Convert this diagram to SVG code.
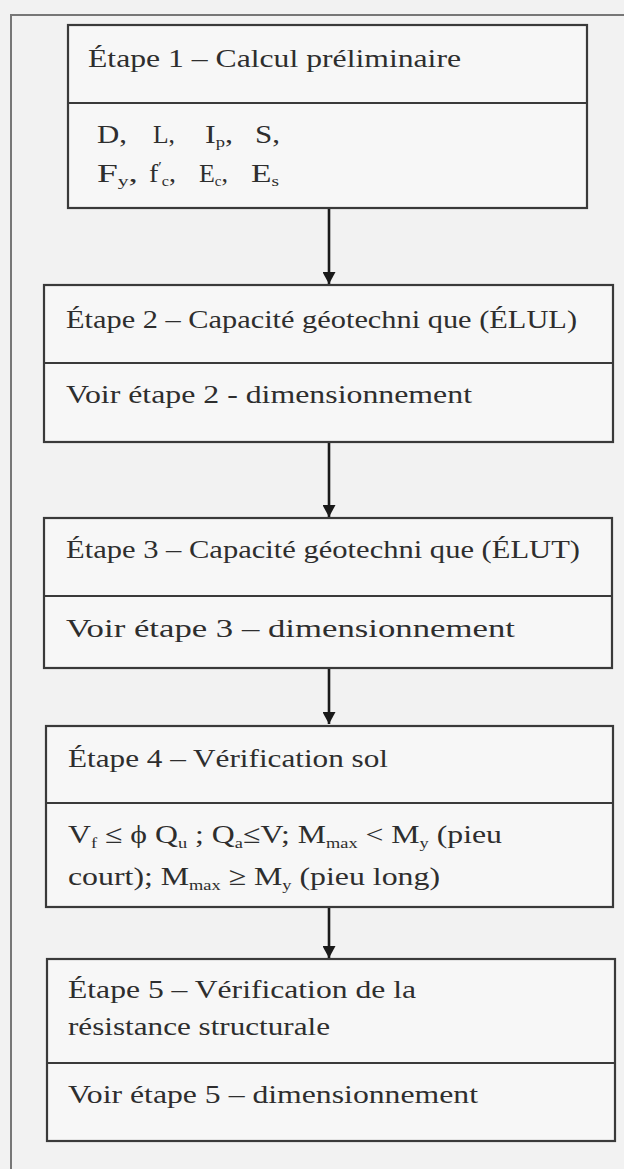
<svg xmlns="http://www.w3.org/2000/svg" width="624" height="1169" viewBox="0 0 624 1169">
<style>
.bg{fill:#f2f2f2}
.box{fill:#f7f7f7;stroke:#3a3a3a;stroke-width:2.2}
.div{stroke:#3a3a3a;stroke-width:2.2}
.frame{fill:none;stroke:#777;stroke-width:2}
.t{font-family:"Liberation Serif","Times New Roman",serif;font-size:26px;fill:#2e2e2e}
.s{font-size:15px}
.conn{stroke:#1a1a1a;stroke-width:2.6;fill:none}
</style>
<defs>
<marker id="ah" markerUnits="userSpaceOnUse" markerWidth="13" markerHeight="13" refX="12" refY="6.5" orient="auto">
<path d="M0,0 L12,6.5 L0,13 z" fill="#1a1a1a"/>
</marker>
</defs>
<rect class="bg" x="0" y="0" width="624" height="1169"/>
<path class="frame" d="M11,1169 L11,15 L624,15"/>

<g id="connectors">
<line class="conn" x1="329" y1="209" x2="329" y2="284" marker-end="url(#ah)"/>
<line class="conn" x1="329" y1="443" x2="329" y2="517" marker-end="url(#ah)"/>
<line class="conn" x1="329" y1="669" x2="329" y2="724" marker-end="url(#ah)"/>
<line class="conn" x1="329" y1="908" x2="329" y2="958" marker-end="url(#ah)"/>
</g>

<g id="etape1">
<rect class="box" x="68" y="25" width="519" height="183"/>
<line class="div" x1="68" y1="103" x2="587" y2="103"/>
<text class="t" x="88" y="67" textLength="373" lengthAdjust="spacingAndGlyphs">Étape 1 – Calcul préliminaire</text>
<text class="t" x="97" y="143" textLength="30" lengthAdjust="spacingAndGlyphs">D,</text>
<text class="t" x="153" y="143" textLength="22" lengthAdjust="spacingAndGlyphs">L,</text>
<text class="t" x="205" y="143" textLength="28" lengthAdjust="spacingAndGlyphs">I<tspan class="s" dy="4">p</tspan><tspan dy="-4">,</tspan></text>
<text class="t" x="255" y="143" textLength="25" lengthAdjust="spacingAndGlyphs">S,</text>
<text class="t" x="97" y="182" textLength="41" lengthAdjust="spacingAndGlyphs">F<tspan class="s" dy="4">y</tspan><tspan dy="-4">,</tspan></text>
<text class="t" x="149" y="182" textLength="27" lengthAdjust="spacingAndGlyphs">f<tspan class="s" dy="-10">′</tspan><tspan class="s" dy="14">c</tspan><tspan dy="-4">,</tspan></text>
<text class="t" x="199" y="182" textLength="29" lengthAdjust="spacingAndGlyphs">E<tspan class="s" dy="4">c</tspan><tspan dy="-4">,</tspan></text>
<text class="t" x="251" y="182" textLength="28" lengthAdjust="spacingAndGlyphs">E<tspan class="s" dy="4">s</tspan></text>
</g>

<g id="etape2">
<rect class="box" x="44" y="285" width="569" height="157"/>
<line class="div" x1="44" y1="363" x2="613" y2="363"/>
<text class="t" x="66" y="328" textLength="511" lengthAdjust="spacingAndGlyphs">Étape 2 – Capacité géotechni que (ÉLUL)</text>
<text class="t" x="66" y="403" textLength="406" lengthAdjust="spacingAndGlyphs">Voir étape 2 - dimensionnement</text>
</g>

<g id="etape3">
<rect class="box" x="44" y="518" width="568" height="150"/>
<line class="div" x1="44" y1="596" x2="612" y2="596"/>
<text class="t" x="66" y="558" textLength="514" lengthAdjust="spacingAndGlyphs">Étape 3 – Capacité géotechni que (ÉLUT)</text>
<text class="t" x="66" y="637" textLength="449" lengthAdjust="spacingAndGlyphs">Voir étape 3 – dimensionnement</text>
</g>

<g id="etape4">
<rect class="box" x="46" y="726" width="567" height="181"/>
<line class="div" x1="46" y1="803" x2="613" y2="803"/>
<text class="t" x="68" y="767" textLength="320" lengthAdjust="spacingAndGlyphs">Étape 4 – Vérification sol</text>
<text class="t" x="68" y="843" textLength="434" lengthAdjust="spacingAndGlyphs">V<tspan class="s" dy="5">f</tspan><tspan dy="-5"> ≤ ϕ Q</tspan><tspan class="s" dy="5">u</tspan><tspan dy="-5"> ; Q</tspan><tspan class="s" dy="5">a</tspan><tspan dy="-5">≤V; M</tspan><tspan class="s" dy="5">max</tspan><tspan dy="-5"> &lt; M</tspan><tspan class="s" dy="5">y</tspan><tspan dy="-5"> (pieu</tspan></text>
<text class="t" x="68" y="885" textLength="372" lengthAdjust="spacingAndGlyphs">court); M<tspan class="s" dy="5">max</tspan><tspan dy="-5"> ≥ M</tspan><tspan class="s" dy="5">y</tspan><tspan dy="-5"> (pieu long)</tspan></text>
</g>

<g id="etape5">
<rect class="box" x="47" y="959" width="568" height="182"/>
<line class="div" x1="47" y1="1063" x2="615" y2="1063"/>
<text class="t" x="68" y="998" textLength="348" lengthAdjust="spacingAndGlyphs">Étape 5 – Vérification de la</text>
<text class="t" x="68" y="1035" textLength="262" lengthAdjust="spacingAndGlyphs">résistance structurale</text>
<text class="t" x="68" y="1103" textLength="410" lengthAdjust="spacingAndGlyphs">Voir étape 5 – dimensionnement</text>
</g>
</svg>
